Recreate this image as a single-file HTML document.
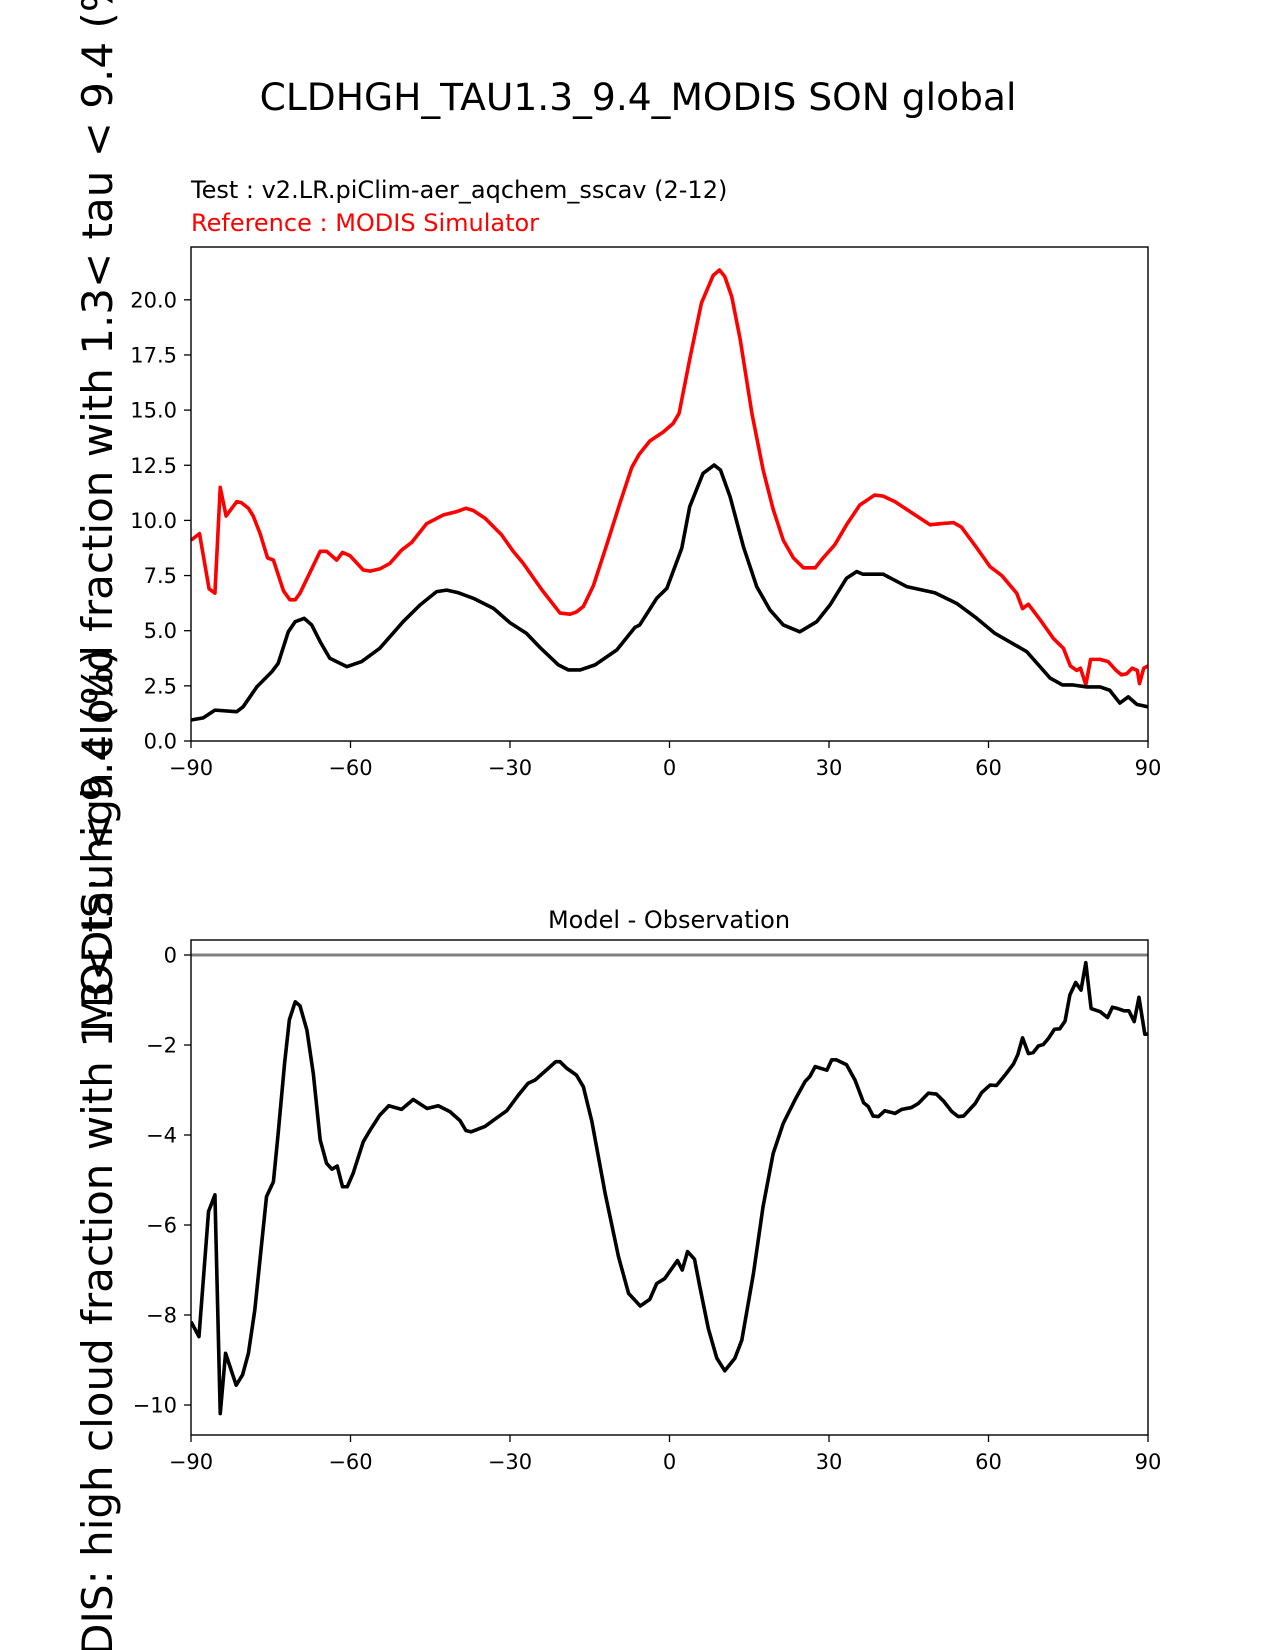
<!DOCTYPE html>
<html><head><meta charset="utf-8"><style>
html,body{margin:0;padding:0;background:#fff;}
svg{display:block;font-family:"DejaVu Sans","Liberation Sans",sans-serif;}
</style></head><body>
<svg id="fig" width="1275" height="1650" viewBox="0 0 1275 1650" xmlns="http://www.w3.org/2000/svg">
<rect width="1275" height="1650" fill="#fff"/>
<defs>
<clipPath id="clipTop"><rect x="191" y="247" width="957" height="494"/></clipPath>
<clipPath id="clipBot"><rect x="191" y="940" width="957" height="495"/></clipPath>
</defs>
<text x="638" y="110" font-size="37.6" text-anchor="middle">CLDHGH_TAU1.3_9.4_MODIS SON global</text>
<text x="191" y="198" font-size="24">Test : v2.LR.piClim-aer_aqchem_sscav (2-12)</text>
<text x="191" y="231" font-size="24" fill="#ff0000">Reference : MODIS Simulator</text>
<text transform="translate(112,494) rotate(-90)" font-size="42" text-anchor="middle">MODIS: high cloud fraction with 1.3&lt; tau &lt; 9.4 (%)</text>
<text transform="translate(112,1187) rotate(-90)" font-size="42" text-anchor="middle">MODIS: high cloud fraction with 1.3&lt; tau &lt; 9.4 (%)</text>
<text x="669" y="928" font-size="24" text-anchor="middle">Model - Observation</text>
<g id="topAx"></g>
<g id="botAx"></g>
</svg>
<script>
const xTicks = [-90, -60, -30, 0, 30, 60, 90];
const xTickLabels = ["\u221290", "\u221260", "\u221230", "0", "30", "60", "90"];
const topYTicks = [0, 2.5, 5, 7.5, 10, 12.5, 15, 17.5, 20];
const topYTickLabels = ["0.0", "2.5", "5.0", "7.5", "10.0", "12.5", "15.0", "17.5", "20.0"];
const botYTicks = [0, -2, -4, -6, -8, -10];
const botYTickLabels = ["0", "\u22122", "\u22124", "\u22126", "\u22128", "\u221210"];

const refLat = [-90,-88.4,-86.6,-85.5,-84.5,-83.4,-81.4,-80.5,-79.2,-78.3,-77,-75.6,-74.5,-72.6,-71.4,-70.4,-69.5,-67.9,-65.7,-64.5,-62.6,-61.5,-60.1,-57.6,-56.3,-54.5,-52.6,-50.4,-48.5,-45.7,-42.5,-40,-38.3,-36.9,-34.7,-31.6,-29.4,-27.5,-24,-20.6,-18.7,-17.5,-16.2,-14.3,-11.8,-9.3,-7.1,-5.7,-3.7,-1.2,0.7,1.8,3.8,6,8.2,9.4,10.4,11.7,13.3,15.5,17.6,19.5,21.4,23.3,25.2,27.4,28.9,31.1,33.3,35.8,38.6,40.2,42.4,44.6,46.5,49,50.9,53.4,54.9,57.8,60.3,62.5,65.3,66.4,67.5,69.7,72.2,74.1,75.4,76.6,77.3,78.3,79.2,81,82.5,84,85,86,87,88,88.4,89.2,90];
const refVal = [9.1,9.4,6.9,6.7,11.5,10.2,10.85,10.8,10.55,10.2,9.4,8.3,8.2,6.8,6.4,6.4,6.7,7.5,8.6,8.6,8.2,8.55,8.4,7.75,7.7,7.8,8.05,8.65,9.0,9.85,10.25,10.4,10.55,10.45,10.1,9.35,8.6,8.05,6.85,5.8,5.75,5.85,6.1,7.05,8.9,10.8,12.4,13.0,13.6,14.0,14.4,14.85,17.3,19.85,21.1,21.35,21.05,20.15,18.2,14.85,12.3,10.5,9.1,8.3,7.85,7.85,8.3,8.9,9.8,10.7,11.15,11.1,10.85,10.5,10.2,9.8,9.85,9.9,9.7,8.75,7.9,7.5,6.7,6.0,6.2,5.5,4.65,4.2,3.4,3.2,3.3,2.55,3.7,3.7,3.6,3.2,3.0,3.05,3.3,3.2,2.6,3.3,3.4];

const testLat = [-90,-87.7,-85.5,-81.4,-80.2,-77.6,-74.8,-73.6,-71.7,-70.4,-68.7,-67.3,-65.7,-63.9,-60.7,-57.9,-54.5,-50.1,-46.9,-43.8,-41.9,-39.7,-36.9,-33.1,-30,-26.9,-24.4,-20.9,-19,-16.8,-14,-9.9,-6.5,-5.6,-2.4,-0.5,2.3,3.8,6.3,8.4,9.6,11.4,13.9,16.4,18.9,21.4,24.5,27.7,30.2,33.3,35.2,36.4,40.2,44.6,49.9,54,57.8,61.2,67.2,71.6,73.9,75.9,78.5,81,82.8,84.7,86.3,87.9,90];
const testVal = [0.95,1.05,1.4,1.33,1.55,2.46,3.14,3.52,4.95,5.41,5.56,5.26,4.5,3.75,3.37,3.6,4.2,5.41,6.17,6.77,6.84,6.72,6.47,6.01,5.36,4.88,4.25,3.45,3.22,3.22,3.45,4.13,5.15,5.26,6.47,6.92,8.73,10.62,12.13,12.51,12.28,11.07,8.81,7.0,5.94,5.26,4.95,5.41,6.17,7.38,7.68,7.56,7.56,7.0,6.72,6.24,5.56,4.88,4.05,2.85,2.54,2.54,2.45,2.45,2.3,1.72,2.0,1.66,1.55];

const diffLat = [-90,-88.5,-86.7,-85.5,-84.5,-83.5,-81.5,-80.3,-79.2,-78,-75.8,-74.5,-73.6,-72.4,-71.5,-70.4,-69.5,-68.2,-67,-65.7,-64.5,-63.5,-62.5,-61.5,-60.6,-59.5,-57.6,-56.3,-54.5,-52.8,-50.4,-48.2,-45.6,-43.5,-41.3,-39.4,-38.3,-37.3,-34.7,-33.1,-30.6,-28.4,-26.6,-25.3,-22.8,-21.4,-20.6,-19.3,-17.5,-16.2,-14.6,-12.1,-9.6,-7.7,-5.5,-3.7,-2.4,-0.9,1.5,2.4,3.4,4.7,5.7,7.3,8.9,10.4,12.3,13.6,15.8,17.6,19.5,21.4,23.6,25.5,26.4,27.4,29.6,30.5,31.4,33.3,34.9,36.5,37.4,38.3,39.3,40.5,42.4,43.7,45.5,46.8,48.7,50.2,51.5,53.1,54.3,55.3,57.5,58.7,60.3,61.5,63.1,64.7,65.5,66.4,67.5,68.4,69.4,70.3,71.3,72.4,73.4,74.4,75.3,76.4,77.4,78.3,79.3,81,82.4,83.3,84.3,85.5,86.4,87.4,88.3,89.4,90];
const diffVal = [-8.15,-8.48,-5.7,-5.33,-10.19,-8.85,-9.56,-9.33,-8.85,-7.89,-5.37,-5.04,-3.96,-2.41,-1.44,-1.04,-1.13,-1.67,-2.63,-4.11,-4.63,-4.76,-4.69,-5.15,-5.15,-4.85,-4.15,-3.89,-3.56,-3.35,-3.43,-3.21,-3.41,-3.35,-3.48,-3.68,-3.9,-3.93,-3.81,-3.67,-3.46,-3.11,-2.85,-2.78,-2.52,-2.37,-2.37,-2.52,-2.67,-2.93,-3.7,-5.3,-6.7,-7.52,-7.8,-7.65,-7.3,-7.19,-6.79,-7.0,-6.59,-6.76,-7.37,-8.3,-8.96,-9.24,-8.96,-8.56,-7.07,-5.59,-4.41,-3.74,-3.22,-2.81,-2.7,-2.48,-2.56,-2.33,-2.33,-2.44,-2.78,-3.28,-3.37,-3.58,-3.59,-3.46,-3.52,-3.43,-3.39,-3.3,-3.07,-3.09,-3.24,-3.48,-3.59,-3.58,-3.3,-3.06,-2.89,-2.9,-2.67,-2.42,-2.22,-1.84,-2.19,-2.17,-2.02,-1.99,-1.85,-1.65,-1.64,-1.47,-0.89,-0.61,-0.78,-0.17,-1.19,-1.26,-1.39,-1.16,-1.19,-1.24,-1.24,-1.48,-0.94,-1.76,-1.76];

const NS = "http://www.w3.org/2000/svg";
const X0 = 191, X1 = 1148;
function xScale(lat){ return X0 + (lat + 90) / 180 * (X1 - X0); }
function topY(v){ return 741 - v * 22.06; }
function botY(v){ return 955 - v * 45.0; }
function mk(tag, attrs, parent){
  const e = document.createElementNS(NS, tag);
  for (const k in attrs) e.setAttribute(k, attrs[k]);
  parent.appendChild(e);
  return e;
}
function linePath(lats, vals, yf){
  const n = Math.min(lats.length, vals.length);
  let d = "";
  for (let i = 0; i < n; i++) d += (i ? "L" : "M") + xScale(lats[i]).toFixed(2) + "," + yf(vals[i]).toFixed(2);
  return d;
}
function drawAxes(g, top, bottom, yTicks, yLabels, yf, prefix){
  for (let i = 0; i < xTicks.length; i++){
    const x = xScale(xTicks[i]);
    const t = mk("line", {x1:x, x2:x, y1:bottom, y2:bottom+7, stroke:"#000", "stroke-width":1.3}, g);
    
    
    const l = mk("text", {x:x, y:bottom+34, "font-size":21, "text-anchor":"middle"}, g);
    l.textContent = xTickLabels[i];
    
    
  }
  for (let i = 0; i < yTicks.length; i++){
    const y = yf(yTicks[i]);
    const t = mk("line", {x1:X0-7, x2:X0, y1:y, y2:y, stroke:"#000", "stroke-width":1.3}, g);
    
    
    const l = mk("text", {x:X0-14, y:y+7.5, "font-size":21, "text-anchor":"end"}, g);
    l.textContent = yLabels[i];
    
    
  }
}
const topG = document.getElementById("topAx");
const botG = document.getElementById("botAx");

const refLine = mk("path", {d:linePath(refLat, refVal, topY), fill:"none", stroke:"#ff0000", "stroke-width":3.6, "stroke-linejoin":"round", "clip-path":"url(#clipTop)"}, topG);


const testLine = mk("path", {d:linePath(testLat, testVal, topY), fill:"none", stroke:"#000", "stroke-width":3.6, "stroke-linejoin":"round", "clip-path":"url(#clipTop)"}, topG);


const topFrame = mk("rect", {x:X0, y:247, width:X1-X0, height:494, fill:"none", stroke:"#000", "stroke-width":1.4}, topG);


drawAxes(topG, 247, 741, topYTicks, topYTickLabels, topY, 'top');

const zeroLine = mk("line", {x1:X0, x2:X1, y1:botY(0), y2:botY(0), stroke:"#808080", "stroke-width":3}, botG);


const diffLine = mk("path", {d:linePath(diffLat, diffVal, botY), fill:"none", stroke:"#000", "stroke-width":3.6, "stroke-linejoin":"round", "clip-path":"url(#clipBot)"}, botG);


const botFrame = mk("rect", {x:X0, y:940, width:X1-X0, height:495, fill:"none", stroke:"#000", "stroke-width":1.4}, botG);


drawAxes(botG, 940, 1435, botYTicks, botYTickLabels, botY, 'bottom');
</script>
</body></html>
